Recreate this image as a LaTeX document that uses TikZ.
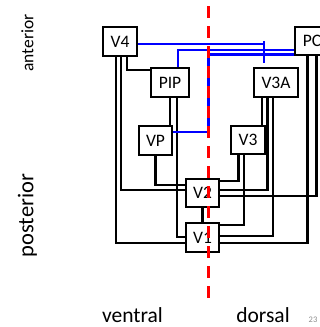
\documentclass[tikz,border=0pt]{standalone}
\usepackage{fontspec}
\setmainfont{Carlito}
\begin{document}
\begin{tikzpicture}[x=1pt,y=-1pt,
  area/.style={draw=black, line width=2pt, fill=white, inner sep=0pt, font=\fontsize{17.5}{17.5}\selectfont},
  conn/.style={line width=2.5pt, black},
  bconn/.style={line width=2.7pt, blue},
  divider/.style={line width=3pt, red, dash pattern=on 12pt off 8pt},
  axislab/.style={font=\fontsize{21.5}{21.5}\selectfont, inner sep=0pt, text depth=0pt},
  sidelab/.style={inner sep=0pt, rotate=90, anchor=base}]
\useasboundingbox (0,0) rectangle (320,327);
\clip (0,0) rectangle (320,327);
% areas
\node[area, minimum width=34pt, minimum height=29pt] (V4)  at (120,41.5)  {V4};
\node[area, minimum width=38pt, minimum height=29pt] (PIP) at (170,82.5)  {PIP};
\node[area, minimum width=44pt, minimum height=29pt] (V3A) at (276,82.5)  {V3A};
\node[area, minimum width=34pt, minimum height=28pt] (PC)  at (312,41)    {PC};
\node[area, minimum width=33pt, minimum height=29pt] (VP)  at (155.5,140.5) {VP};
\node[area, minimum width=34pt, minimum height=28pt] (V3)  at (248,140)   {V3};
\node[area, minimum width=33pt, minimum height=28pt] (V2)  at (202.5,193) {V2};
\node[area, minimum width=33pt, minimum height=29pt] (V1)  at (202.5,237.5) {V1};
% divider coordinates
\coordinate (dtop) at (208.5,6);
\coordinate (dbot) at (208.5,300);
\coordinate (bar1) at (264,41);
\coordinate (bar2) at (264,63);
% black connections
\draw[conn] ([xshift=-4pt]V4.south) |- ([yshift=-5.5pt]V1.west);
\draw[conn] ([xshift=1pt]V4.south) |- ([yshift=3pt]V2.west);
\draw[conn] ([xshift=7pt]V4.south) |- ([yshift=12.5pt]PIP.west);
\draw[conn] (PIP.south) -- (PIP.south |- VP.north);
\draw[conn] ([xshift=7pt]PIP.south) |- ([yshift=0.5pt]V1.west);
\draw[conn] (VP.south) |- ([yshift=8pt]V2.west);
\draw[conn] (V2.south) -- (V1.north);
\draw[conn] ([xshift=-14pt]V3A.south) -- ([xshift=-14pt]V3A.south |- V3.north);
\draw[conn] ([xshift=-8.5pt]V3A.south) |- ([yshift=3pt]V2.east);
\draw[conn] ([xshift=-3pt]V3A.south) |- ([yshift=1.5pt]V1.east);
\draw[conn] ([xshift=-9.5pt]V3.south) |- ([yshift=12pt]V2.east);
\draw[conn] ([xshift=-4pt]V3.south) |- ([yshift=12.5pt]V1.east);
\draw[conn] ([xshift=-4.5pt]PC.south) |- ([yshift=-5.5pt]V1.east);
\draw[conn] ([xshift=4.5pt]PC.south) |- ([yshift=-3pt]V2.east);
% blue connections
\draw[bconn] ([yshift=-2.5pt]V4.east) -- ([yshift=-2.5pt]V4.east -| bar1);
\draw[bconn] (bar1) -- (bar2);
\draw[bconn] ([yshift=-9pt]PC.west) -| ([xshift=8pt]PIP.north);
\draw[bconn] ([yshift=-13.5pt]PC.west) -| ([yshift=8.5pt]VP.east -| dtop) -- ([yshift=8.5pt]VP.east);
% divider
\draw[divider] (dtop) -- (dbot);
% labels
\node[sidelab, font=\fontsize{17.5}{17.5}\selectfont] (ant) at (33.3,43) {anterior};
\node[sidelab, font=\fontsize{22.5}{22.5}\selectfont] (post) at (33.3,215.5) {posterior};
\node[axislab, anchor=base] (ven) at (132.5,322) {ventral};
\node[axislab, anchor=base] (dor) at (263,322) {dorsal};
\node[inner sep=0pt, anchor=base, text depth=0pt, text=black!45, font=\fontsize{8.5}{8.5}\selectfont] (num) at (313,322) {23};
\end{tikzpicture}
\end{document}
